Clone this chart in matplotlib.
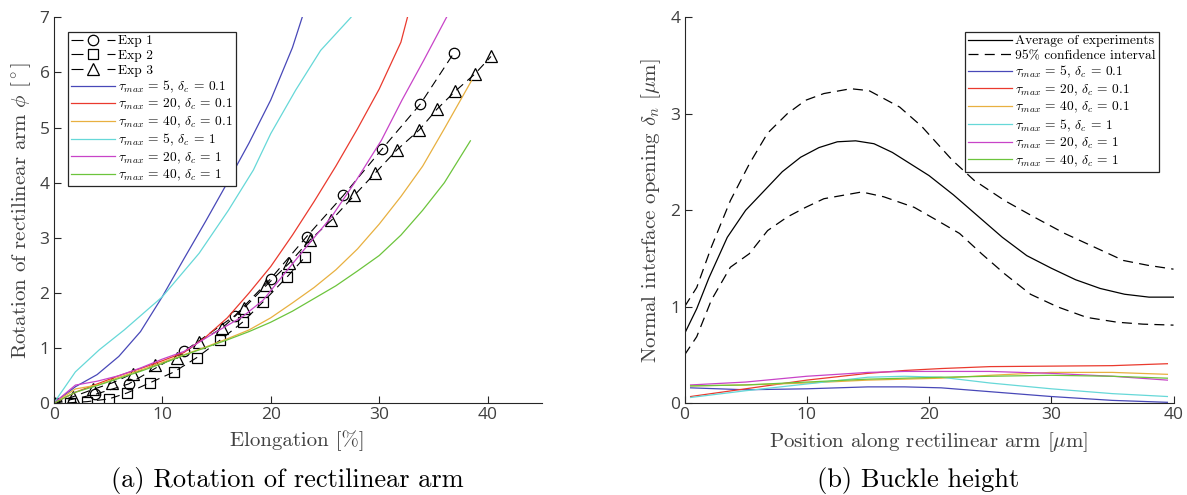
import matplotlib
matplotlib.use("Agg")
import matplotlib.pyplot as plt
from matplotlib.lines import Line2D

plt.rcParams['font.family'] = ['Open Sans', 'DejaVu Sans']
plt.rcParams['mathtext.fontset'] = 'cm'
plt.rcParams['axes.unicode_minus'] = False

SERIF = ['cmr10', 'DejaVu Serif']
AXC = '#262626'

# ---------------- data: (a) rotation of rectilinear arm ----------------
exp1_x = [0, 3.8, 6.9, 12.0, 16.7, 20.0, 23.3, 26.7, 30.3, 33.8, 36.9]
exp1_y = [0, 0.16, 0.35, 0.94, 1.59, 2.26, 3.02, 3.77, 4.62, 5.43, 6.36]
exp2_x = [0, 1.5, 3.1, 5.1, 6.8, 8.85, 11.1, 13.2, 15.3, 17.4, 19.3, 21.5, 23.2]
exp2_y = [0, 0.01, 0.03, 0.08, 0.19, 0.37, 0.57, 0.83, 1.14, 1.47, 1.84, 2.29, 2.66]
exp3_x = [0, 1.8, 3.6, 5.4, 7.3, 9.3, 11.4, 13.4, 15.5, 17.5, 19.6, 21.7, 23.6,
          25.6, 27.7, 29.6, 31.6, 33.7, 35.3, 37.0, 38.8, 40.3]
exp3_y = [0, 0.12, 0.25, 0.37, 0.54, 0.69, 0.82, 1.12, 1.36, 1.72, 2.14, 2.54, 2.96,
          3.32, 3.77, 4.17, 4.59, 4.96, 5.33, 5.66, 5.97, 6.29]
exp_labels = ['Exp 1', 'Exp 2', 'Exp 3']

a_t5_d01_x = [0, 2, 4, 6, 8, 10, 12, 14, 16, 18, 20, 22, 22.9]
a_t5_d01_y = [0, 0.3, 0.52, 0.85, 1.3, 1.93, 2.62, 3.3, 4.0, 4.72, 5.5, 6.45, 7.0]
a_t20_d01_x = [0, 2, 4, 6, 8, 10, 12, 14, 16, 18, 20, 22, 24, 26, 28, 30, 32, 32.6]
a_t20_d01_y = [0, 0.2, 0.35, 0.5, 0.63, 0.77, 0.92, 1.2, 1.55, 2.0, 2.48, 3.05, 3.66, 4.3, 4.98, 5.7, 6.55, 7.0]
a_t40_d01_x = [0, 2, 4, 6, 8, 10, 12, 14, 16, 18, 20, 22, 24, 26, 28, 30, 32, 34, 36, 38.5]
a_t40_d01_y = [0, 0.26, 0.33, 0.47, 0.6, 0.74, 0.88, 1.02, 1.17, 1.33, 1.55, 1.82, 2.1,
               2.42, 2.8, 3.25, 3.75, 4.3, 4.98, 5.85]
a_t5_d1_x = [0, 2, 4.2, 6.5, 9.3, 10, 13.4, 16.1, 18.4, 20, 22.3, 24.6, 27.4]
a_t5_d1_y = [0, 0.57, 0.97, 1.33, 1.81, 1.93, 2.72, 3.5, 4.23, 4.89, 5.68, 6.4, 7.0]
a_t20_d1_x = [0, 2, 4, 6, 8, 10, 12, 14.75, 17.4, 19.3, 21.3, 23.3, 25.6, 27.9, 30.2, 32.1, 34.1, 36.2]
a_t20_d1_y = [0, 0.33, 0.4, 0.5, 0.64, 0.8, 0.94, 1.27, 1.57, 1.87, 2.36, 2.84, 3.38, 4.05, 4.77, 5.5, 6.22, 7.0]
a_t40_d1_x = [0, 2, 4, 6, 8, 10, 12, 14, 16, 18, 20, 22, 24, 26, 28, 30, 32, 34, 36, 38.4]
a_t40_d1_y = [0, 0.2, 0.32, 0.45, 0.58, 0.72, 0.87, 1.01, 1.15, 1.3, 1.47, 1.67, 1.9,
              2.13, 2.4, 2.68, 3.05, 3.5, 4.0, 4.76]

# ---------------- data: (b) buckle height ----------------
avg_x = [0, 1, 2, 3.5, 5, 6.5, 8, 9.5, 11, 12.5, 14, 15.5, 17, 18.5, 20, 22, 24, 26, 28, 30,
         32, 34, 36, 38, 40]
avg_y = [0.72, 0.98, 1.3, 1.72, 2.0, 2.2, 2.4, 2.55, 2.65, 2.71, 2.72, 2.69, 2.6, 2.48, 2.36,
         2.16, 1.94, 1.72, 1.53, 1.4, 1.28, 1.19, 1.13, 1.1, 1.1]
ci_hi_x = [0, 1, 2.2, 3.75, 5.3, 6.8, 8.4, 9.9, 11.4, 13.6, 15.1, 17.6, 19.4, 21.9, 23.7, 26.2,
           28.6, 31.1, 33.5, 35.9, 37.9, 40]
ci_hi_y = [1.0, 1.2, 1.62, 2.1, 2.48, 2.8, 3.0, 3.14, 3.21, 3.26, 3.24, 3.07, 2.87, 2.52, 2.31,
           2.1, 1.93, 1.76, 1.62, 1.48, 1.43, 1.39]
ci_lo_x = [0, 1, 2.2, 3.75, 5.3, 6.8, 8.4, 9.9, 11.4, 14.5, 16.3, 18.8, 20.6, 22.5, 24.3, 26.2,
           28.3, 30.5, 32.9, 35.4, 37.5, 40]
ci_lo_y = [0.5, 0.69, 1.07, 1.41, 1.55, 1.79, 1.93, 2.03, 2.12, 2.19, 2.14, 2.03, 1.9, 1.76,
           1.55, 1.34, 1.13, 1.0, 0.89, 0.84, 0.82, 0.81]

b_x = [0.5, 5, 10, 15, 18, 21, 25, 30, 35, 39.5]
b_t5_d01 = [0.16, 0.14, 0.15, 0.17, 0.17, 0.16, 0.12, 0.07, 0.03, 0.01]
b_t20_d01 = [0.07, 0.15, 0.24, 0.31, 0.34, 0.36, 0.38, 0.385, 0.39, 0.41]
b_t40_d01 = [0.18, 0.19, 0.21, 0.24, 0.25, 0.26, 0.29, 0.32, 0.32, 0.30]
b_t5_d1 = [0.06, 0.13, 0.2, 0.27, 0.28, 0.27, 0.21, 0.15, 0.1, 0.07]
b_t20_d1 = [0.19, 0.22, 0.28, 0.32, 0.33, 0.33, 0.33, 0.31, 0.28, 0.24]
b_t40_d1 = [0.18, 0.19, 0.22, 0.25, 0.26, 0.27, 0.28, 0.29, 0.28, 0.26]

sim_tau = ['5', '20', '40', '5', '20', '40']
sim_delta = ['0.1', '0.1', '0.1', '1', '1', '1']
sim_colors = ['#4848b8', '#ea3a2e', '#e8b040', '#66d8d8', '#c844c8', '#6cc43c']


def sim_labels(sp):
    h = r'\hspace{%.3f}' % sp
    return [r'$\tau_{max}%s=%s%s,%s\delta_c%s=%s%s$' % (h, h, t, h, h, h, d)
            for t, d in zip(sim_tau, sim_delta)]


fig = plt.figure(figsize=(11.87, 4.95), dpi=100)
ax1 = fig.add_axes([53.7 / 1187, 0.1853, 488.3 / 1187, 0.7797])
ax2 = fig.add_axes([684.5 / 1187, 0.1853, 489 / 1187, 0.7797])

DASH = (0, (8, 5))
LEG_DASH = (0, (10.8, 21.6, 7.2, 30))
mk = dict(markerfacecolor='none', markeredgecolor='k', markeredgewidth=0.9)
exp_styles = [('o', 7.5), ('s', 7), ('^', 8.5)]
for (xs, ys), (m, ms) in zip([(exp1_x, exp1_y), (exp2_x, exp2_y), (exp3_x, exp3_y)], exp_styles):
    ax1.plot(xs, ys, color='k', lw=0.8, ls=DASH, marker=m, markersize=ms, **mk)
exp_handles = [Line2D([], [], color='k', lw=0.8, ls=LEG_DASH, marker=m, markersize=ms, **mk)
               for m, ms in exp_styles]

sims_a = [(a_t5_d01_x, a_t5_d01_y), (a_t20_d01_x, a_t20_d01_y), (a_t40_d01_x, a_t40_d01_y),
          (a_t5_d1_x, a_t5_d1_y), (a_t20_d1_x, a_t20_d1_y), (a_t40_d1_x, a_t40_d1_y)]
lines_a = []
for (xs, ys), c in zip(sims_a, sim_colors):
    lines_a += ax1.plot(xs, ys, color=c, lw=0.9)

h_avg, = ax2.plot(avg_x, avg_y, color='k', lw=0.9)
h_ci, = ax2.plot(ci_hi_x, ci_hi_y, color='k', lw=0.9, ls=DASH)
ax2.plot(ci_lo_x, ci_lo_y, color='k', lw=0.9, ls=DASH)
lines_b = []
for ys, c in zip([b_t5_d01, b_t20_d01, b_t40_d01, b_t5_d1, b_t20_d1, b_t40_d1], sim_colors):
    lines_b += ax2.plot(b_x, ys, color=c, lw=0.9)

ax1.set_xlim(0, 45)
ax1.set_ylim(0, 7)
ax1.set_xticks([0, 10, 20, 30, 40])
ax1.set_yticks(range(0, 8))
ax2.set_xlim(0, 40)
ax2.set_ylim(0, 4)
ax2.set_xticks([0, 10, 20, 30, 40])
ax2.set_yticks(range(0, 5))

for ax in (ax1, ax2):
    for s in ('top', 'right'):
        ax.spines[s].set_visible(False)
    for s in ('left', 'bottom'):
        ax.spines[s].set_color(AXC)
        ax.spines[s].set_linewidth(0.8)
    ax.tick_params(direction='in', length=5, width=0.8, colors=AXC, labelsize=12.5,
                   labelcolor='#404040', pad=3)

lab_kw = dict(fontsize=15, color='#404040', family=SERIF)
ax1.set_xlabel('Elongation [%]', labelpad=5, **lab_kw)
ax1.set_ylabel(r'Rotation of rectilinear arm $\phi$ [$^\circ$]', labelpad=5, **lab_kw)
ax2.set_xlabel(r'Position along rectilinear arm [$\mu$m]', labelpad=5, **lab_kw)
ax2.set_ylabel(r'Normal interface opening $\delta_n$ [$\mu$m]', labelpad=5, **lab_kw)

leg_kw = dict(frameon=True, fancybox=False, framealpha=1, edgecolor=AXC,
              prop={'family': SERIF, 'size': 9.7}, handlelength=3.25, handletextpad=0.25,
              labelspacing=0.16, borderpad=0.22, borderaxespad=0, numpoints=1)


def legend_a(sp):
    return ax1.legend(exp_handles + lines_a, exp_labels + sim_labels(sp), loc='upper left',
                      bbox_to_anchor=(0.029, 0.962), **leg_kw)


# pick the math spacing so the left legend box is about as wide as in the reference
TARGET_W = 168
best = None
renderer = fig.canvas.get_renderer()
for i in range(0, 31):
    sp = i * 0.02
    w = legend_a(sp).get_window_extent(renderer).width
    if best is None or abs(w - TARGET_W) < best[0]:
        best = (abs(w - TARGET_W), sp)
sp = best[1]
lg1 = legend_a(sp)
lg2 = ax2.legend([h_avg, h_ci] + lines_b,
                 ['Average of experiments', '95% confidence interval'] + sim_labels(sp),
                 loc='upper right', bbox_to_anchor=(0.970, 0.962), **leg_kw)
for lg in (lg1, lg2):
    lg.get_frame().set_linewidth(0.9)

fig.text(287 / 1187, 1 - 480 / 495, '(a) Rotation of rectilinear arm', ha='center',
         va='center', fontsize=19, family=SERIF, color='k')
fig.text(918 / 1187, 1 - 480 / 495, '(b) Buckle height', ha='center', va='center',
         fontsize=19, family=SERIF, color='k')

fig.savefig('out.png', dpi=100)
